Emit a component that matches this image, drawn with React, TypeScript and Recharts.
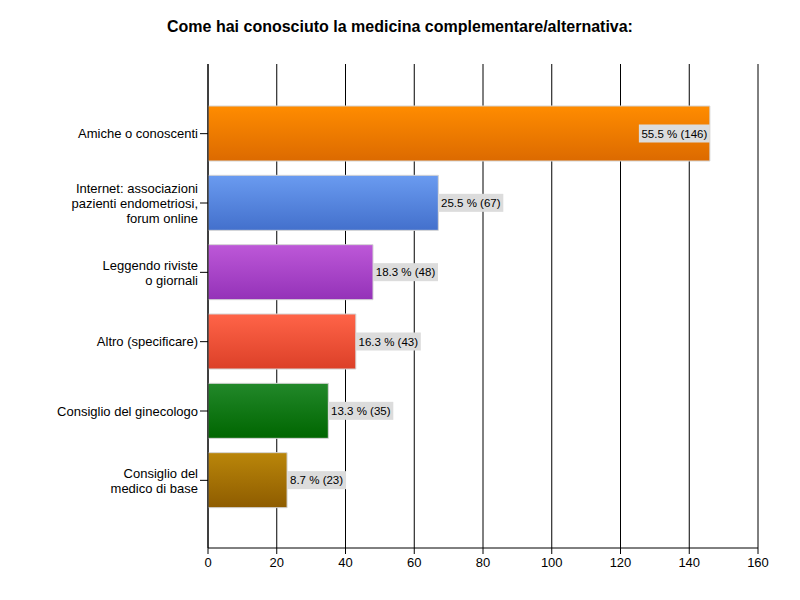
import React from "react";
import { BarChart, Bar, XAxis, YAxis, CartesianGrid, Cell, LabelList } from "recharts";

const title = "Come hai conosciuto la medicina complementare/alternativa:";
const categories = [
  "Amiche o conoscenti",
  "Internet: associazioni pazienti endometriosi, forum online",
  "Leggendo riviste o giornali",
  "Altro (specificare)",
  "Consiglio del ginecologo",
  "Consiglio del medico di base",
];
const categoryLines = [
  ["Amiche o conoscenti"],
  ["Internet: associazioni", "pazienti endometriosi,", "forum online"],
  ["Leggendo riviste", "o giornali"],
  ["Altro (specificare)"],
  ["Consiglio del ginecologo"],
  ["Consiglio del", "medico di base"],
];
const counts = [146, 67, 48, 43, 35, 23];
const percents = [55.5, 25.5, 18.3, 16.3, 13.3, 8.7];
const xTicks = [0, 20, 40, 60, 80, 100, 120, 140, 160];
const gradients = [
  ["#FF8C00", "#DC6A00"],
  ["#6A9BF0", "#4370CC"],
  ["#BD58D8", "#9432B8"],
  ["#FF6448", "#DC4028"],
  ["#22882A", "#006600"],
  ["#BA860A", "#8E5C00"],
];

const data = categories.map((c, i) => ({
  name: c,
  value: counts[i],
  label: `${percents[i].toFixed(1)} % (${counts[i]})`,
}));

const FONT = "'Liberation Sans', Arial, sans-serif";
const PLOT_RIGHT = 758;

const YTick = (props: any) => {
  const { x, y, payload } = props;
  const idx = categories.indexOf(payload.value);
  const lines = idx >= 0 ? categoryLines[idx] : [payload.value];
  const lh = 15;
  const start = -((lines.length - 1) / 2) * lh;
  return (
    <text x={x} y={y} textAnchor="end" fontSize={13} fontFamily={FONT} fill="#000">
      {lines.map((l: string, i: number) => (
        <tspan key={i} x={x} y={y + start + i * lh} dy="0.36em">
          {l}
        </tspan>
      ))}
    </text>
  );
};

const ValueLabel = (props: any) => {
  const { x, y, width, height, value } = props;
  const text = String(value);
  const w = text.length * 6 - 1;
  const h = 18;
  const end = Number(x) + Number(width);
  const inside = end + w > PLOT_RIGHT;
  const bx = inside ? end - w : end;
  const cy = Number(y) + Number(height) / 2;
  return (
    <g>
      <rect x={bx} y={cy - h / 2} width={w} height={h} fill="#DCDCDC" />
      <text
        x={bx + w / 2}
        y={cy}
        dy="0.36em"
        textAnchor="middle"
        fontSize={11.5}
        fontFamily={FONT}
        fill="#000"
      >
        {text}
      </text>
    </g>
  );
};

export default function App() {
  return (
    <div style={{ position: "absolute", left: 0, top: 0, width: 800, height: 600, background: "#fff" }}>
      <div
        style={{
          position: "absolute",
          left: 0,
          top: 18,
          width: 800,
          textAlign: "center",
          fontFamily: FONT,
          fontWeight: "bold",
          fontSize: 16,
          color: "#000",
        }}
      >
        {title}
      </div>
      <BarChart
        width={800}
        height={600}
        data={data}
        layout="vertical"
        margin={{ top: 64, right: 42, bottom: 22, left: 0 }}
        barSize={55}
      >
        <defs>
          {gradients.map((g, i) => (
            <linearGradient key={i} id={`grad${i}`} x1="0" y1="0" x2="0" y2="1">
              <stop offset="0%" stopColor={g[0]} />
              <stop offset="100%" stopColor={g[1]} />
            </linearGradient>
          ))}
        </defs>
        <CartesianGrid horizontal={false} vertical={true} stroke="#000" strokeDasharray="" />
        <XAxis
          type="number"
          domain={[0, 160]}
          ticks={xTicks}
          interval={0}
          tickSize={6}
          tickMargin={4}
          height={30}
          tick={{ fontSize: 13, fontFamily: FONT, fill: "#000" }}
          axisLine={{ stroke: "#000" }}
          tickLine={{ stroke: "#000" }}
          allowDataOverflow
        />
        <YAxis
          type="category"
          dataKey="name"
          width={208}
          tickSize={8}
          tickMargin={2}
          padding={{ top: 35, bottom: 33 }}
          tick={<YTick />}
          interval={0}
          axisLine={{ stroke: "#000" }}
          tickLine={{ stroke: "#000" }}
        />
        <Bar dataKey="value" isAnimationActive={false} stroke="#D4D4D4" strokeWidth={1}>
          {data.map((_, i) => (
            <Cell key={i} fill={`url(#grad${i})`} />
          ))}
          <LabelList dataKey="label" content={<ValueLabel />} />
        </Bar>
      </BarChart>
    </div>
  );
}
